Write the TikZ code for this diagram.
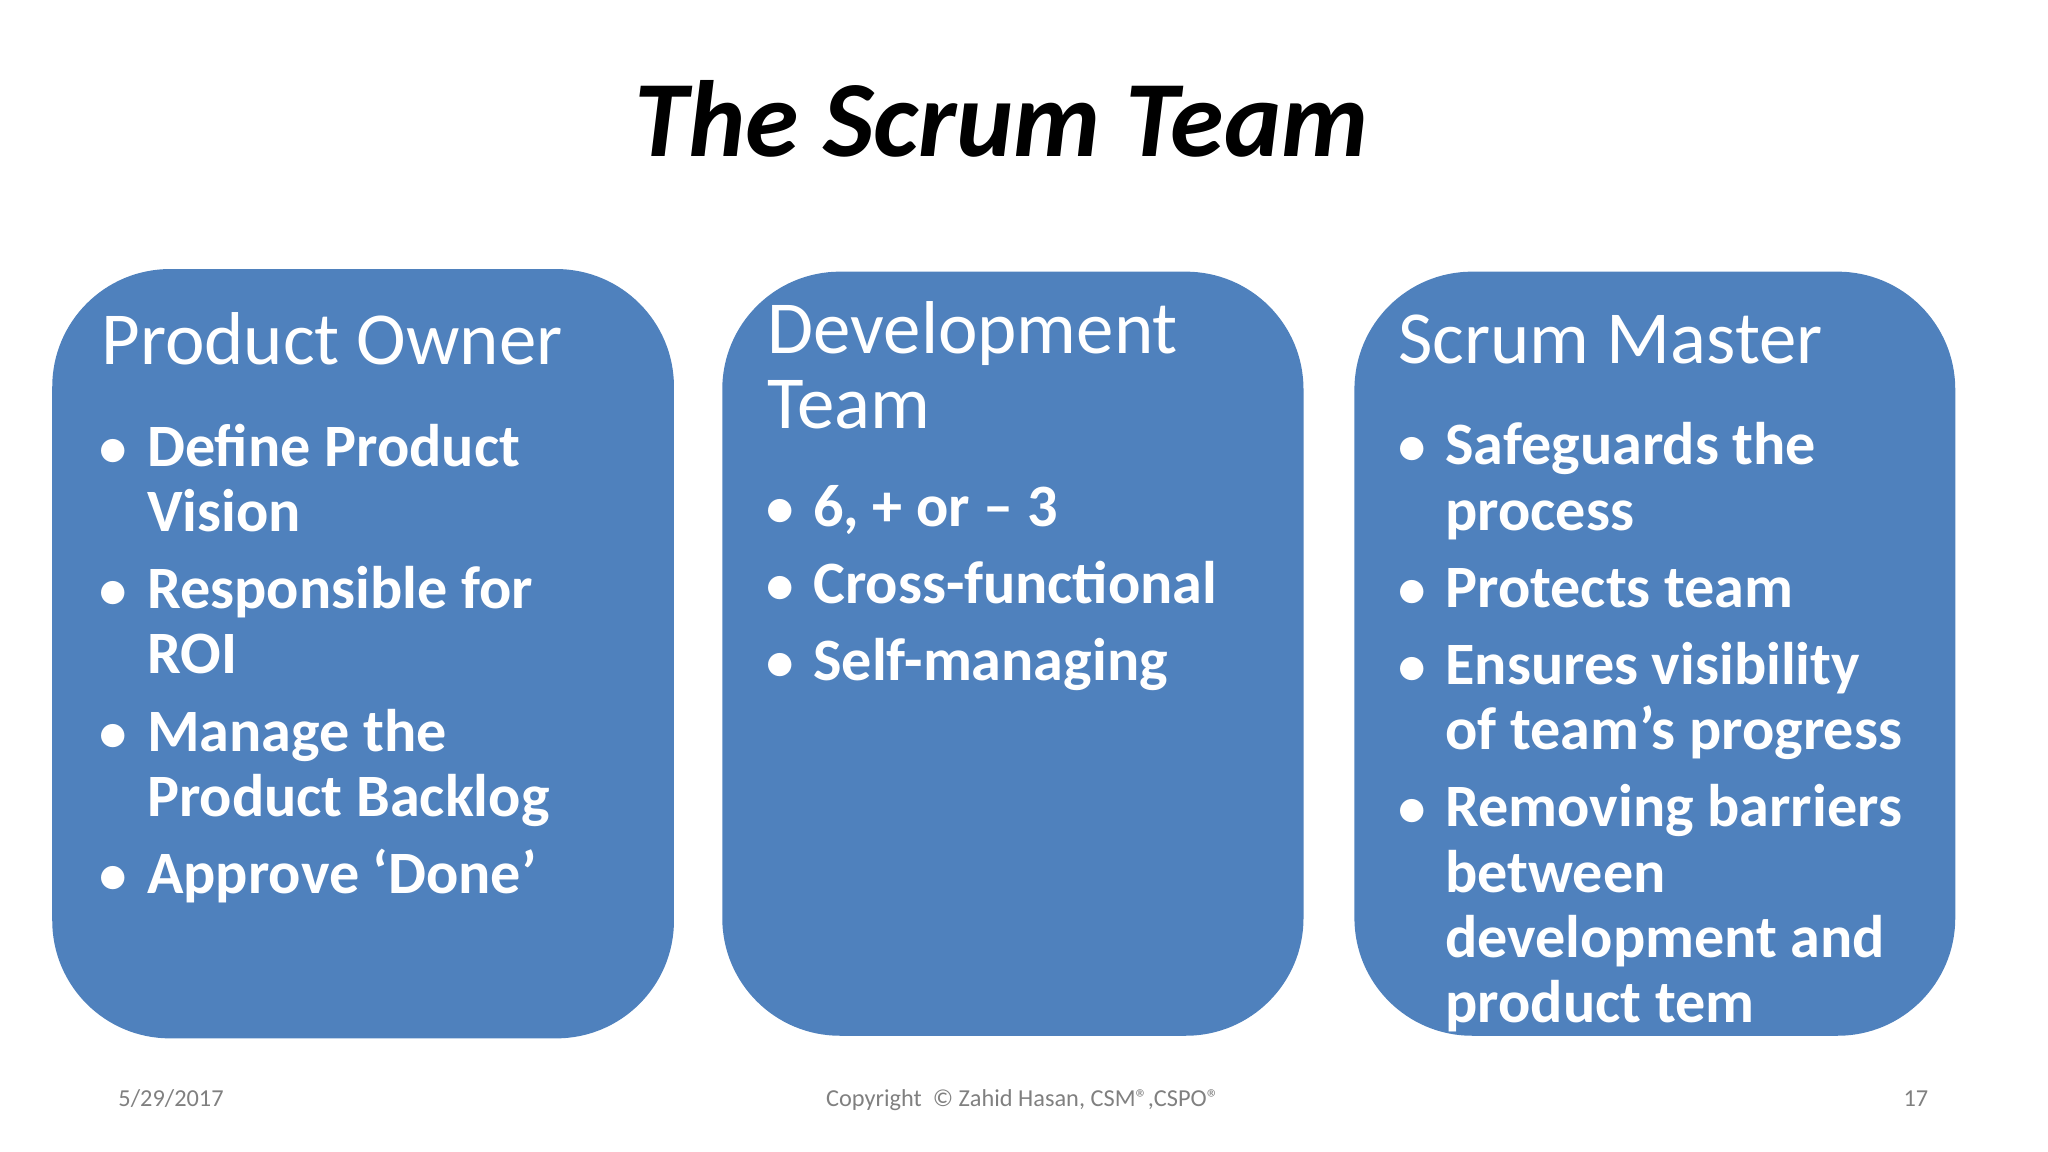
\documentclass[tikz,border=0pt]{standalone}
\usepackage{fontspec}
\setmainfont{Carlito}
\begin{document}
\begin{tikzpicture}[x=0.01cm,y=-0.01cm,
 box/.style={fill={rgb,255:red,79;green,129;blue,189},rounded corners=0.9cm},
 hd/.style={anchor=base west,inner sep=0,text=white,font=\fontsize{16.3}{16.3}\selectfont},
 it/.style={anchor=base west,inner sep=0,text=white,font=\bfseries\fontsize{13.1}{13.1}\selectfont},
 dot/.style={anchor=base,inner sep=0,text=white,font=\bfseries\fontsize{12}{12}\selectfont},
 ft/.style={inner sep=0,anchor=base,text=gray,font=\fontsize{5.3}{5.3}\selectfont}]
\useasboundingbox (0,0) rectangle (1568,882);
\node[anchor=base,inner sep=0,font=\bfseries\itshape\fontsize{23.6}{23.6}\selectfont] (title) at (767,120) {The Scrum Team};
\fill[box] (40,206) rectangle (516,795);
\fill[box] (553,208) rectangle (998,793);
\fill[box] (1037,208) rectangle (1497,793);
% PO
\node[hd] (poh) at (77,279) {Product Owner};
\foreach \y in {357,466,575,684} \node[dot] at (87,\y) {•};
\node[it] (p1) at (112,357) {Define Product};
\node[it] (p2) at (112,407) {Vision};
\node[it] (p3) at (112,466) {Responsible for};
\node[it] (p4) at (112,516) {ROI};
\node[it] (p5) at (112,575) {Manage the};
\node[it] (p6) at (112,625) {Product Backlog};
\node[it] (p7) at (112,684) {Approve ‘Done’};
% Dev
\node[hd] (dh1) at (587,271) {Development};
\node[hd] (dh2) at (587,328) {Team};
\foreach \y in {403,462,521} \node[dot] at (597,\y) {•};
\node[it] (d1) at (622,403) {6, + or – 3};
\node[it] (d2) at (622,462) {Cross-functional};
\node[it] (d3) at (622,521) {Self-managing};
% SM
\node[hd] (sh) at (1070,278) {Scrum Master};
\foreach \y in {356,465,524,633} \node[dot] at (1081,\y) {•};
\node[it] (s1) at (1106,356) {Safeguards the};
\node[it] (s2) at (1106,406) {process};
\node[it] (s3) at (1106,465) {Protects team};
\node[it] (s4) at (1106,524) {Ensures visibility};
\node[it] (s5) at (1106,574) {of team’s progress};
\node[it] (s6) at (1106,633) {Removing barriers};
\node[it] (s7) at (1106,683) {between};
\node[it] (s8) at (1106,733) {development and};
\node[it] (s9) at (1106,783) {product tem};
% footer
\node[ft,anchor=base west] (f1) at (90,847) {5/29/2017};
\node[ft] (f2) at (783,847) {Copyright \ © Zahid Hasan, CSM®,CSPO®};
\node[ft,anchor=base east] (f3) at (1477,847) {17};
\end{tikzpicture}
\end{document}
